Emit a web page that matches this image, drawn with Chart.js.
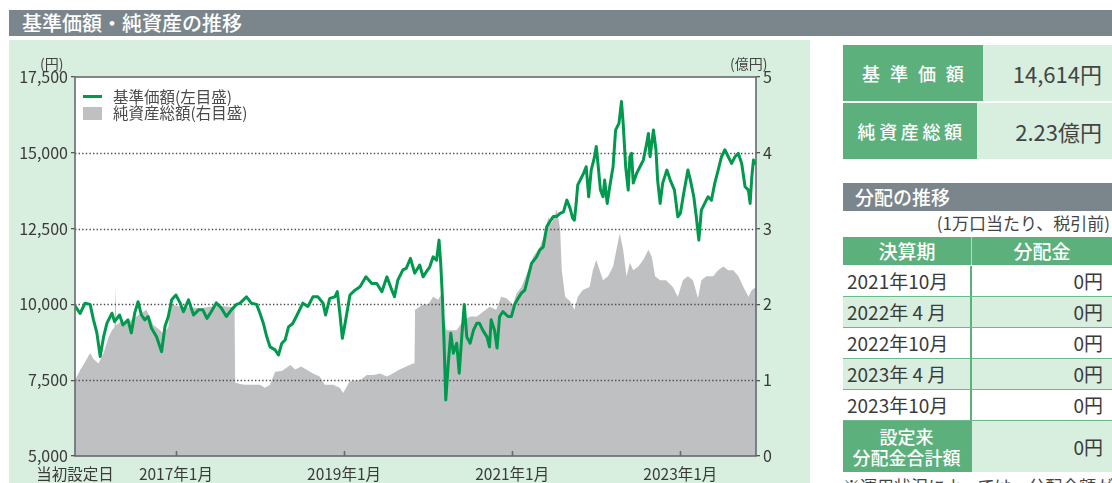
<!DOCTYPE html>
<html lang="ja">
<head>
<meta charset="utf-8">
<script src="https://cdn.jsdelivr.net/npm/chart.js@4.4.0/dist/chart.umd.min.js"></script>
<style>
body { margin:0; width:1112px; height:483px; overflow:hidden; background:#fff; position:relative;
       font-family:"Noto Sans CJK JP", "Noto Sans", sans-serif; color:#3a3a3a; }
.abs { position:absolute; }
#titleBar { left:9px; top:10px; width:1103px; height:26px; background:#7b868c; color:#fff;
            font-size:20px; line-height:26px; padding-left:13px; box-sizing:border-box; font-weight:500; }
#panel { left:9px; top:40px; width:801px; height:443px; background:#d8eede; }
#navChart { position:absolute; left:0; top:0; }
.unit { font-size:14px; color:#444; }
.legTxt { font-size:15.5px; line-height:17px; color:#4a4a4a; white-space:nowrap; }

.sumRow { left:843px; width:269px; height:56px; display:flex; }
.sumLabel { width:130px; background:#5cb07c; color:#fff; font-size:18px; font-weight:500;
            display:flex; align-items:center; justify-content:center; }
.sumValue { flex:1; background:#d8eede; font-size:22px; color:#444; text-align:right;
            padding-right:10px; line-height:56px; }

#distHead { left:843px; top:183px; width:269px; height:28px; background:#7b868c; color:#fff;
            font-size:19px; line-height:28px; padding-left:12px; box-sizing:border-box; font-weight:500; }
#distNote { left:843px; top:211px; width:267px; text-align:right; font-size:17px; line-height:24px; color:#444; }
#distTable { left:843px; top:237px; width:269px; }
.dRow { display:flex; height:31px; box-sizing:border-box; border-bottom:1px solid #6cba8a; }
.dRow .c1 { width:129px; border-right:2px solid #5cb07c; font-size:19px; line-height:30px;
            padding-left:4px; box-sizing:border-box; white-space:pre; color:#3a3a3a; }
.dRow .c2 { flex:1; font-size:19px; line-height:30px; text-align:right; padding-right:9px; color:#3a3a3a; }
.dRow.head { height:29px; background:#5cb07c; border-bottom:1px solid #fff; }
.dRow.head .c1, .dRow.head .c2 { color:#fff; text-align:center; padding:0; font-weight:500; line-height:28px; }
.dRow.head .c1 { border-right:1px solid #b5dcc2; }
.dRow.alt { background:#d8eede; }
.dRow.total { height:51px; background:#d8eede; border-bottom:none; }
.dRow.total .c1 { background:#5cb07c; color:#fff; text-align:center; padding:0; font-size:18px;
                  line-height:21px; display:flex; align-items:center; justify-content:center; font-weight:500; }
.dRow.total .c2 { line-height:51px; }
#footNote { left:843px; top:473px; font-size:17px; white-space:nowrap; color:#444; }
</style>
</head>
<body>
<div id="titleBar" class="abs">基準価額・純資産の推移</div>

<div id="panel" class="abs">
  <canvas id="navChart" width="801" height="443"></canvas>
  <div class="abs unit" style="left:31px; top:13px;">(円)</div>
  <div class="abs unit" style="left:721px; top:13px;">(億円)</div>
  <div class="abs" style="left:74px; top:55px; width:19px; height:3px; background:#00994e;"></div>
  <div class="abs legTxt" style="left:104px; top:48px;">基準価額(左目盛)</div>
  <div class="abs" style="left:74px; top:67px; width:19px; height:13px; background:#bfc0c2;"></div>
  <div class="abs legTxt" style="left:104px; top:64px;">純資産総額(右目盛)</div>
</div>

<div class="abs sumRow" style="top:45px;">
  <div class="sumLabel" style="letter-spacing:0.55em; padding-left:0.55em;">基準価額</div>
  <div class="sumValue" id="navNow"></div>
</div>
<div class="abs sumRow" style="top:103px;">
  <div class="sumLabel" style="letter-spacing:0.2em; padding-left:0.2em;">純資産総額</div>
  <div class="sumValue" id="assetNow"></div>
</div>

<div id="distHead" class="abs">分配の推移</div>
<div id="distNote" class="abs">(1万口当たり、税引前)</div>
<div id="distTable" class="abs"></div>
<div id="footNote" class="abs">※運用状況によっては、分配金額が変わる場合、あるいは分配金が支払われない場合があります。</div>

<script>
// 基準価額 (円)
const navDates = [
  2015.80, 2015.86, 2015.92, 2015.98, 2016.02, 2016.06, 2016.10, 2016.14, 2016.18, 2016.24,
  2016.27, 2016.33, 2016.37, 2016.43, 2016.47, 2016.51, 2016.55, 2016.59, 2016.63, 2016.67,
  2016.71, 2016.77, 2016.83, 2016.87, 2016.91, 2016.95, 2017.00, 2017.05, 2017.09, 2017.15,
  2017.21, 2017.27, 2017.32, 2017.37, 2017.42, 2017.48, 2017.54, 2017.60, 2017.66, 2017.72,
  2017.76, 2017.84, 2017.90, 2017.96, 2018.00, 2018.04, 2018.08, 2018.12, 2018.18, 2018.22,
  2018.26, 2018.30, 2018.34, 2018.39, 2018.45, 2018.51, 2018.57, 2018.63, 2018.69, 2018.75,
  2018.78, 2018.83, 2018.89, 2018.92, 2018.95, 2018.98, 2019.02, 2019.07, 2019.13, 2019.19,
  2019.26, 2019.33, 2019.39, 2019.45, 2019.51, 2019.56, 2019.60, 2019.64, 2019.70, 2019.74,
  2019.79, 2019.84, 2019.90, 2019.94, 2019.98, 2020.02, 2020.06, 2020.10, 2020.13, 2020.15,
  2020.17, 2020.19, 2020.21, 2020.24, 2020.27, 2020.30, 2020.34, 2020.37, 2020.40, 2020.43,
  2020.46, 2020.50, 2020.54, 2020.58, 2020.61, 2020.65, 2020.70, 2020.73, 2020.75, 2020.79,
  2020.82, 2020.85, 2020.89, 2020.95, 2020.99, 2021.03, 2021.07, 2021.11, 2021.15, 2021.19,
  2021.23, 2021.29, 2021.33, 2021.37, 2021.41, 2021.44, 2021.49, 2021.53, 2021.57, 2021.61,
  2021.65, 2021.69, 2021.72, 2021.74, 2021.76, 2021.78, 2021.82, 2021.85, 2021.88, 2021.91,
  2021.94, 2021.98, 2022.00, 2022.02, 2022.05, 2022.08, 2022.10, 2022.13, 2022.16, 2022.20,
  2022.23, 2022.27, 2022.30, 2022.32, 2022.35, 2022.38, 2022.40, 2022.42, 2022.44, 2022.48,
  2022.52, 2022.56, 2022.60, 2022.62, 2022.64, 2022.68, 2022.71, 2022.73, 2022.76, 2022.79,
  2022.84, 2022.88, 2022.93, 2022.97, 2023.00, 2023.04, 2023.09, 2023.12, 2023.16, 2023.19,
  2023.22, 2023.25, 2023.29, 2023.33, 2023.37, 2023.41, 2023.45, 2023.49, 2023.53, 2023.57,
  2023.61, 2023.65, 2023.69, 2023.73, 2023.77, 2023.81, 2023.83, 2023.85, 2023.87, 2023.90
];
const navValues = [
  9950, 9700, 10040, 10000, 9490, 9060, 8280, 8930, 9380, 9710,
  9430, 9650, 9320, 9490, 9060, 9710, 10090, 9650, 9490, 9600,
  9210, 8930, 8440, 9270, 9600, 10150, 10310, 10050, 9760, 10150,
  9650, 9820, 9820, 9540, 9760, 10050, 9880, 9600, 9820, 10000,
  10035, 10250, 10035, 10000, 9710, 9380, 8940, 8600, 8500, 8330,
  8720, 8830, 9260, 9370, 9700, 10040, 9930, 10250, 10250, 10040,
  9650, 10200, 10250, 10420, 9710, 8880, 9490, 10310, 10470, 10580,
  10910, 10690, 10690, 10420, 10910, 10530, 10250, 10800, 11140, 11190,
  11520, 11030, 11300, 10910, 11080, 11240, 11570, 11460, 12120, 11350,
  10250, 8720, 6850, 8060, 9050, 8390, 8720, 7730, 8930, 10000,
  8930, 8720, 9150, 9380, 9380, 9150, 8930, 8600, 9490, 9150,
  8560, 9600, 9760, 9600, 9600, 10000, 10200, 10370, 10470, 10910,
  11350, 11570, 11800, 11900, 12550, 12700, 12900, 12900, 13000, 13050,
  13440, 13160, 12840, 12780, 13300, 13940, 14160, 14330, 14540, 13550,
  14430, 14870, 15210, 14650, 13770, 13550, 14100, 13330, 13880, 14540,
  15750, 15970, 16690, 15970, 14540, 13770, 14870, 14980, 14000, 14320,
  14540, 14760, 15310, 15640, 14870, 15750, 15100, 14100, 13330, 14000,
  14430, 14100, 13770, 12890, 13000, 13660, 14430, 14100, 13550, 12890,
  12120, 13110, 13330, 13550, 13440, 14000, 14430, 14870, 15100, 14870,
  14650, 14870, 14980, 14650, 13880, 13770, 13330, 14200, 14760, 14614
];

// 純資産総額 (億円)
const assetDates = [
  2015.80, 2015.86, 2015.92, 2015.98, 2016.02, 2016.08, 2016.14, 2016.20, 2016.24, 2016.27,
  2016.283, 2016.290, 2016.33, 2016.43, 2016.53, 2016.65, 2016.73, 2016.79, 2016.85, 2016.91,
  2016.93, 2017.01, 2017.17, 2017.29, 2017.40, 2017.52, 2017.64, 2017.698, 2017.705, 2017.76,
  2017.82, 2018.00, 2018.06, 2018.12, 2018.18, 2018.26, 2018.36, 2018.42, 2018.49, 2018.55,
  2018.63, 2018.71, 2018.77, 2018.87, 2018.95, 2018.99, 2019.07, 2019.19, 2019.27, 2019.35,
  2019.43, 2019.51, 2019.58, 2019.66, 2019.74, 2019.82, 2019.838, 2019.845, 2019.94, 2020.00,
  2020.06, 2020.12, 2020.16, 2020.19, 2020.22, 2020.28, 2020.34, 2020.42, 2020.50, 2020.58,
  2020.65, 2020.73, 2020.81, 2020.87, 2020.93, 2021.01, 2021.05, 2021.11, 2021.19, 2021.25,
  2021.33, 2021.39, 2021.43, 2021.47, 2021.53, 2021.57, 2021.59, 2021.63, 2021.69, 2021.74,
  2021.78, 2021.84, 2021.92, 2021.96, 2022.00, 2022.04, 2022.08, 2022.14, 2022.20, 2022.24,
  2022.28, 2022.32, 2022.36, 2022.40, 2022.44, 2022.50, 2022.56, 2022.62, 2022.66, 2022.70,
  2022.76, 2022.83, 2022.91, 2022.97, 2023.03, 2023.09, 2023.15, 2023.21, 2023.25, 2023.31,
  2023.39, 2023.45, 2023.51, 2023.57, 2023.63, 2023.69, 2023.75, 2023.81, 2023.85, 2023.90
];
const assetValues = [
  1.00, 1.13, 1.24, 1.36, 1.28, 1.22, 1.36, 1.57, 1.66, 1.70,
  2.23, 1.72, 1.76, 1.76, 1.84, 1.93, 1.73, 1.68, 1.62, 1.70,
  2.01, 1.98, 1.96, 1.95, 1.97, 1.98, 1.97, 1.96, 0.97, 0.95,
  0.94, 0.94, 0.90, 0.94, 1.11, 1.12, 1.20, 1.14, 1.18, 1.14,
  1.09, 1.05, 0.94, 0.94, 0.90, 0.83, 0.99, 1.00, 1.07, 1.07,
  1.09, 1.05, 1.09, 1.14, 1.18, 1.22, 1.22, 1.93, 2.00, 2.00,
  2.10, 2.06, 2.14, 1.80, 1.66, 1.66, 1.66, 1.79, 1.84, 1.84,
  1.90, 1.97, 1.93, 2.10, 2.08, 2.00, 2.14, 2.23, 2.45, 2.63,
  2.76, 2.94, 3.15, 3.07, 3.25, 3.00, 2.45, 2.10, 2.04, 1.93,
  2.10, 2.19, 2.23, 2.45, 2.59, 2.45, 2.32, 2.37, 2.50, 2.72,
  2.94, 2.72, 2.37, 2.55, 2.45, 2.50, 2.59, 2.72, 2.63, 2.37,
  2.32, 2.32, 2.23, 2.10, 2.32, 2.37, 2.32, 2.08, 2.32, 2.37,
  2.37, 2.45, 2.50, 2.45, 2.45, 2.37, 2.23, 2.10, 2.19, 2.23
];

const xTickValues = [2015.80, 2017, 2019, 2021, 2023];
const xTickLabels = ['当初設定日', '2017年1月', '2019年1月', '2021年1月', '2023年1月'];

const navNow = '14,614円';
const assetNow = '2.23億円';

const distPeriods = ['2021年10月', '2022年 4 月', '2022年10月', '2023年 4 月', '2023年10月'];
const distAmounts = ['0円', '0円', '0円', '0円', '0円'];
const distTotal = '0円';

document.getElementById('navNow').textContent = navNow;
document.getElementById('assetNow').textContent = assetNow;

// 分配の推移 table
let tbl = document.getElementById('distTable');
let html = '<div class="dRow head"><div class="c1">決算期</div><div class="c2">分配金</div></div>';
for (let i = 0; i < distPeriods.length; i++) {
    html += `<div class="dRow${i % 2 ? ' alt' : ''}"><div class="c1">${distPeriods[i]}</div><div class="c2">${distAmounts[i]}</div></div>`;
}
html += `<div class="dRow total"><div class="c1">設定来<br>分配金合計額</div><div class="c2">${distTotal}</div></div>`;
tbl.innerHTML = html;

const fontFam = '"Noto Sans CJK JP", "Noto Sans", sans-serif';
const gridValues = [7500, 10000, 12500, 15000];

// white plot background, dotted grid over the grey area, frame and inner x ticks
const framePlugin = {
    id: 'frame',
    beforeDatasetsDraw(chart) {
        const a = chart.chartArea;
        const ctx = chart.ctx;
        ctx.save();
        ctx.fillStyle = '#ffffff';
        ctx.fillRect(a.left, a.top, a.right - a.left, a.bottom - a.top);
        ctx.restore();
    },
    afterDatasetDraw(chart, args) {
        if (args.index !== 1) return;
        const a = chart.chartArea;
        const ctx = chart.ctx;
        const y = chart.scales.y;
        ctx.save();
        ctx.strokeStyle = '#4d4d4d';
        ctx.lineWidth = 1.4;
        ctx.setLineDash([1.4, 2.2]);
        gridValues.forEach(v => {
            const py = Math.round(y.getPixelForValue(v)) + 0.5;
            ctx.beginPath();
            ctx.moveTo(a.left, py);
            ctx.lineTo(a.right, py);
            ctx.stroke();
        });
        ctx.restore();
    },
    afterDraw(chart) {
        const a = chart.chartArea;
        const ctx = chart.ctx;
        const x = chart.scales.x;
        ctx.save();
        ctx.strokeStyle = '#666b6e';
        ctx.lineWidth = 1.6;
        ctx.strokeRect(a.left, a.top, a.right - a.left, a.bottom - a.top);
        xTickValues.slice(1).forEach(v => {
            const px = Math.round(x.getPixelForValue(v)) + 0.5;
            ctx.beginPath();
            ctx.moveTo(px, a.bottom);
            ctx.lineTo(px, a.bottom - 5);
            ctx.stroke();
        });
        ctx.restore();
    }
};

const navChart = new Chart(document.getElementById('navChart'), {
    type: 'line',
    data: {
        datasets: [{
            label: '基準価額(左目盛)',
            data: navDates.map((d, i) => ({ x: d, y: navValues[i] })),
            yAxisID: 'y',
            borderColor: '#00994e',
            borderWidth: 3,
            borderJoinStyle: 'round',
            pointRadius: 0,
            tension: 0,
            fill: false
        }, {
            label: '純資産総額(右目盛)',
            data: assetDates.map((d, i) => ({ x: d, y: assetValues[i] })),
            yAxisID: 'y1',
            borderWidth: 0,
            borderColor: 'rgba(0,0,0,0)',
            backgroundColor: '#bfc0c2',
            pointRadius: 0,
            tension: 0,
            fill: 'start'
        }]
    },
    options: {
        responsive: false,
        animation: false,
        devicePixelRatio: 1,
        layout: { padding: { top: 37, left: 0, right: 0, bottom: 0 } },
        plugins: { legend: { display: false }, tooltip: { enabled: false } },
        scales: {
            x: {
                type: 'linear',
                min: 2015.80,
                max: 2023.90,
                afterBuildTicks: s => { s.ticks = xTickValues.map(v => ({ value: v })); },
                afterFit: s => { s.height = 27; },
                grid: { display: false, drawTicks: false },
                border: { display: false },
                ticks: {
                    autoSkip: false, maxRotation: 0, padding: 9, color: '#3a3a3a',
                    font: { size: 15.5, family: fontFam },
                    callback: (v, i) => xTickLabels[i]
                }
            },
            y: {
                position: 'left',
                min: 5000,
                max: 17500,
                afterFit: s => { s.width = 66; },
                grid: { drawOnChartArea: false, tickLength: 4, color: '#555', lineWidth: 1.3 },
                border: { display: false },
                ticks: {
                    stepSize: 2500, padding: 3, color: '#3a3a3a',
                    font: { size: 16, family: fontFam },
                    callback: v => v.toLocaleString('en-US')
                }
            },
            y1: {
                position: 'right',
                min: 0,
                max: 5,
                afterFit: s => { s.width = 54; },
                grid: { drawOnChartArea: false, tickLength: 4, color: '#555', lineWidth: 1.3 },
                border: { display: false },
                ticks: {
                    stepSize: 1, padding: 3, color: '#3a3a3a',
                    font: { size: 16, family: fontFam }
                }
            }
        }
    },
    plugins: [framePlugin]
});
</script>
</body>
</html>
